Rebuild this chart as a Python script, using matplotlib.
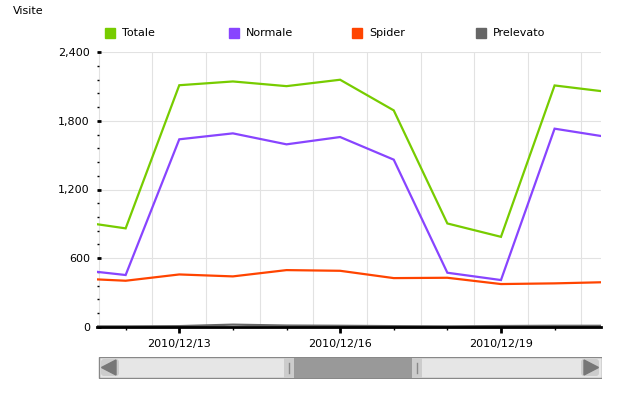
import matplotlib.pyplot as plt
import numpy as np
from matplotlib.patches import Rectangle, FancyBboxPatch, Polygon

# giorni di dicembre 2010
days = [11, 12, 13, 14, 15, 16, 17, 18, 19, 20, 21]
totale = [928, 860, 2112, 2145, 2104, 2160, 1892, 903, 786, 2110, 2053]
normale = [504, 452, 1639, 1691, 1595, 1659, 1461, 472, 408, 1732, 1658]
spider = [424, 402, 457, 440, 495, 489, 425, 428, 373, 379, 390]
prelevato = [3, 3, 5, 18, 10, 8, 5, 3, 6, 8, 8]

series_names = ['Totale', 'Normale', 'Spider', 'Prelevato']
colors = ['#77cc00', '#8844ff', '#ff4400', '#666666']
major_days = [13, 16, 19]
major_labels = ['2010/12/13', '2010/12/16', '2010/12/19']

W, H = 621, 394
fig = plt.figure(figsize=(W / 100, H / 100), dpi=100)
plt.rcParams['font.family'] = ['DejaVu Sans']

def px(x0, y0, x1, y1):
    # pixel box (top-left origin) -> figure fraction [l, b, w, h]
    return [x0 / W, 1 - y1 / H, (x1 - x0) / W, (y1 - y0) / H]

ax = fig.add_axes(px(96.7, 52.3, 600.7, 326.7))

data = [totale, normale, spider, prelevato]
for vals, c, name in zip(data[::-1], colors[::-1], series_names[::-1]):
    ax.plot(days, vals, color=c, lw=1.6, label=name, solid_joinstyle='miter', zorder=3)

ax.set_xlim(11.46, 20.86)
ax.set_ylim(0, 2400)

# griglia
ax.set_yticks([0, 600, 1200, 1800, 2400])
ax.set_yticklabels(['0', '600', '1,200', '1,800', '2,400'], fontsize=8)
ax.set_yticks(np.arange(0, 2401, 120), minor=True)
for y in [600, 1200, 1800, 2400]:
    ax.axhline(y, color='#e2e2e2', lw=0.8, zorder=1)
for x in np.arange(11.5, 21, 1):
    ax.axvline(x, color='#e2e2e2', lw=0.8, zorder=1)

ax.set_xticks(major_days)
ax.set_xticklabels(major_labels, fontsize=8)
ax.set_xticks([d for d in days if d not in major_days and 11.46 < d < 20.86], minor=True)

ax.tick_params(axis='y', which='major', direction='in', length=3, width=2, pad=5, colors='black')
ax.tick_params(axis='y', which='minor', direction='in', length=1.5, width=1)
ax.tick_params(axis='x', which='major', direction='out', length=4, width=2, pad=5)
ax.tick_params(axis='x', which='minor', direction='out', length=2, width=1)

for s in ['top', 'right', 'left']:
    ax.spines[s].set_visible(False)
ax.spines['bottom'].set_linewidth(2)
ax.spines['bottom'].set_color('black')
ax.spines['bottom'].set_zorder(4)

# titolo asse
fig.text(12.7 / W, 1 - 11 / H, 'Visite', fontsize=8, va='center', ha='left')

# legenda
sq_x = [105.3, 229.3, 352, 476]
for x0, c, name in zip(sq_x, colors, series_names):
    fig.patches.append(Rectangle((x0 / W, 1 - 37.5 / H), 10 / W, 10 / H,
                                 transform=fig.transFigure, color=c))
    fig.text((x0 + 17) / W, 1 - 32.7 / H, name, fontsize=8, va='center', ha='left')

# barra di scorrimento
sb = fig.add_axes(px(98, 356.5, 602, 378.5))
sb.set_xlim(98, 602)
sb.set_ylim(0, 22)
sb.axis('off')
sb.add_patch(Rectangle((98.5, 0.5), 503, 21, facecolor='#e6e6e6', edgecolor='#888888', lw=1))
sb.add_patch(FancyBboxPatch((101, 2.5), 18, 17, boxstyle='round,pad=0,rounding_size=3',
                            facecolor='#cccccc', edgecolor='none'))
sb.add_patch(FancyBboxPatch((581, 2.5), 18, 17, boxstyle='round,pad=0,rounding_size=3',
                            facecolor='#cccccc', edgecolor='none'))
sb.add_patch(Polygon([[116, 3.5], [116, 18.5], [101.5, 11]], color='#777777'))
sb.add_patch(Polygon([[584, 3.5], [584, 18.5], [598.5, 11]], color='#777777'))
sb.add_patch(Rectangle((284, 1), 10, 20, facecolor='#cccccc', edgecolor='none'))
sb.add_patch(Rectangle((294, 1), 118, 20, facecolor='#999999', edgecolor='none'))
sb.add_patch(Rectangle((412, 1), 10, 20, facecolor='#cccccc', edgecolor='none'))
sb.plot([288.5, 288.5], [6, 16], color='#888888', lw=1)
sb.plot([416.5, 416.5], [6, 16], color='#888888', lw=1)

fig.savefig('out.png', dpi=100)
